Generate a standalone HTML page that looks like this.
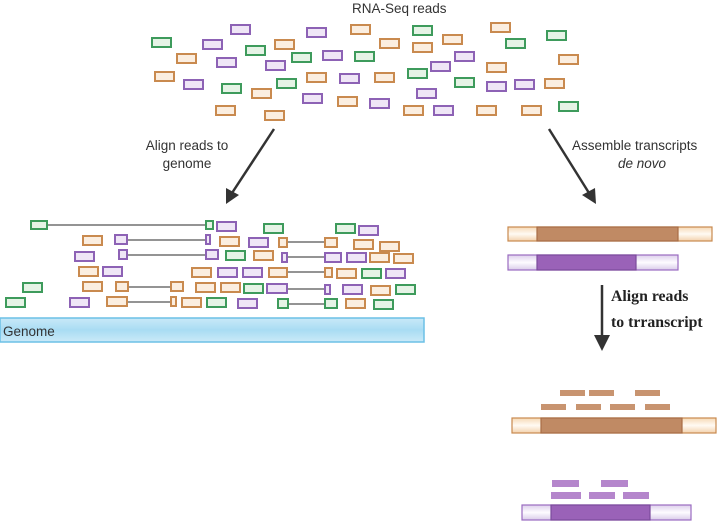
<!DOCTYPE html>
<html><head><meta charset="utf-8"><style>
html,body{margin:0;padding:0;background:#fff;width:720px;height:532px;overflow:hidden}
svg{display:block}
.g{fill:#e6f3e6;stroke:#3e9b5c;stroke-width:2}
.o{fill:#fbeee0;stroke:#c98a4f;stroke-width:2}
.p{fill:#efe6f6;stroke:#8d62b5;stroke-width:2}
.l{stroke:#555;stroke-width:1.2}
.t{font-family:"Liberation Sans",sans-serif;font-size:13.5px;fill:#333}
.s{font-family:"Liberation Serif",serif;font-size:15.8px;font-weight:bold;fill:#222}
</style></head><body>
<svg width="720" height="532" viewBox="0 0 720 532" xmlns="http://www.w3.org/2000/svg">
<defs>
<linearGradient id="gb" x1="0" y1="0" x2="0" y2="1"><stop offset="0" stop-color="#c9e9f8"/><stop offset="0.5" stop-color="#a9dcf3"/><stop offset="1" stop-color="#cbeaf8"/></linearGradient>
<linearGradient id="wo" x1="0" y1="0" x2="0" y2="1"><stop offset="0" stop-color="#f6d9b6"/><stop offset="0.5" stop-color="#fffaf3"/><stop offset="1" stop-color="#f3d2ad"/></linearGradient>
<linearGradient id="wp" x1="0" y1="0" x2="0" y2="1"><stop offset="0" stop-color="#ddd0ec"/><stop offset="0.5" stop-color="#fdfbff"/><stop offset="1" stop-color="#d9cbe9"/></linearGradient>
</defs>
<text class="t" x="352" y="13">RNA-Seq reads</text>
<g>
<rect class="p" x="231" y="25" width="19" height="9"/><rect class="p" x="307" y="28" width="19" height="9"/>
<rect class="o" x="351" y="25" width="19" height="9"/><rect class="g" x="413" y="26" width="19" height="9"/>
<rect class="o" x="491" y="23" width="19" height="9"/><rect class="g" x="547" y="31" width="19" height="9"/>
<rect class="g" x="152" y="38" width="19" height="9"/><rect class="p" x="203" y="40" width="19" height="9"/>
<rect class="g" x="246" y="46" width="19" height="9"/><rect class="o" x="275" y="40" width="19" height="9"/>
<rect class="o" x="380" y="39" width="19" height="9"/><rect class="o" x="413" y="43" width="19" height="9"/>
<rect class="o" x="443" y="35" width="19" height="9"/><rect class="g" x="506" y="39" width="19" height="9"/>
<rect class="o" x="177" y="54" width="19" height="9"/><rect class="p" x="217" y="58" width="19" height="9"/>
<rect class="p" x="266" y="61" width="19" height="9"/><rect class="g" x="292" y="53" width="19" height="9"/>
<rect class="p" x="323" y="51" width="19" height="9"/><rect class="g" x="355" y="52" width="19" height="9"/>
<rect class="p" x="455" y="52" width="19" height="9"/><rect class="p" x="431" y="62" width="19" height="9"/>
<rect class="o" x="487" y="63" width="19" height="9"/><rect class="o" x="559" y="55" width="19" height="9"/>
<rect class="o" x="155" y="72" width="19" height="9"/><rect class="p" x="184" y="80" width="19" height="9"/>
<rect class="g" x="222" y="84" width="19" height="9"/><rect class="g" x="277" y="79" width="19" height="9"/>
<rect class="o" x="307" y="73" width="19" height="9"/><rect class="p" x="340" y="74" width="19" height="9"/>
<rect class="o" x="375" y="73" width="19" height="9"/><rect class="g" x="408" y="69" width="19" height="9"/>
<rect class="g" x="455" y="78" width="19" height="9"/><rect class="p" x="487" y="82" width="19" height="9"/>
<rect class="p" x="515" y="80" width="19" height="9"/><rect class="o" x="545" y="79" width="19" height="9"/>
<rect class="o" x="252" y="89" width="19" height="9"/><rect class="p" x="303" y="94" width="19" height="9"/>
<rect class="o" x="338" y="97" width="19" height="9"/><rect class="p" x="370" y="99" width="19" height="9"/>
<rect class="p" x="417" y="89" width="19" height="9"/><rect class="o" x="216" y="106" width="19" height="9"/>
<rect class="o" x="265" y="111" width="19" height="9"/><rect class="o" x="404" y="106" width="19" height="9"/>
<rect class="p" x="434" y="106" width="19" height="9"/><rect class="o" x="477" y="106" width="19" height="9"/>
<rect class="o" x="522" y="106" width="19" height="9"/><rect class="g" x="559" y="102" width="19" height="9"/>
</g>
<line x1="274" y1="129" x2="232" y2="193" stroke="#333" stroke-width="2.5"/>
<polygon points="226,204 226,188 239,195" fill="#333"/>
<line x1="549" y1="129" x2="589" y2="193" stroke="#333" stroke-width="2.5"/>
<polygon points="596,204 582,195 595,188" fill="#333"/>
<text class="t" x="187" y="150" text-anchor="middle">Align reads to</text>
<text class="t" x="187" y="168" text-anchor="middle">genome</text>
<text class="t" x="572" y="150">Assemble transcripts</text>
<text class="t" x="642" y="168" text-anchor="middle" font-style="italic">de novo</text>
<g>
<line class="l" x1="47" y1="225" x2="206" y2="225"/>
<rect class="g" x="31" y="221" width="16" height="8"/><rect class="g" x="206" y="221" width="7" height="8"/>
<rect class="p" x="217" y="222" width="19" height="9"/><rect class="g" x="264" y="224" width="19" height="9"/>
<rect class="g" x="336" y="224" width="19" height="9"/><rect class="p" x="359" y="226" width="19" height="9"/>
<line class="l" x1="127" y1="240" x2="206" y2="240"/>
<rect class="o" x="83" y="236" width="19" height="9"/><rect class="p" x="115" y="235" width="12" height="9"/>
<rect class="p" x="206" y="235" width="4" height="9"/><rect class="o" x="220" y="237" width="19" height="9"/>
<rect class="p" x="249" y="238" width="19" height="9"/>
<line class="l" x1="287" y1="242" x2="325" y2="242"/>
<rect class="o" x="279" y="238" width="8" height="9"/><rect class="o" x="325" y="238" width="12" height="9"/>
<rect class="o" x="354" y="240" width="19" height="9"/><rect class="o" x="380" y="242" width="19" height="9"/>
<line class="l" x1="127" y1="255" x2="206" y2="255"/>
<rect class="p" x="75" y="252" width="19" height="9"/><rect class="p" x="119" y="250" width="8" height="9"/>
<rect class="p" x="206" y="250" width="12" height="9"/><rect class="g" x="226" y="251" width="19" height="9"/>
<rect class="o" x="254" y="251" width="19" height="9"/>
<line class="l" x1="287" y1="257" x2="325" y2="257"/>
<rect class="p" x="282" y="253" width="5" height="9"/><rect class="p" x="325" y="253" width="16" height="9"/>
<rect class="p" x="347" y="253" width="19" height="9"/><rect class="o" x="370" y="253" width="19" height="9"/>
<rect class="o" x="394" y="254" width="19" height="9"/>
<rect class="o" x="79" y="267" width="19" height="9"/><rect class="p" x="103" y="267" width="19" height="9"/>
<rect class="o" x="192" y="268" width="19" height="9"/><rect class="p" x="218" y="268" width="19" height="9"/>
<rect class="p" x="243" y="268" width="19" height="9"/>
<line class="l" x1="287" y1="272" x2="325" y2="272"/>
<rect class="o" x="269" y="268" width="18" height="9"/><rect class="o" x="325" y="268" width="7" height="9"/>
<rect class="o" x="337" y="269" width="19" height="9"/><rect class="g" x="362" y="269" width="19" height="9"/>
<rect class="p" x="386" y="269" width="19" height="9"/>
<rect class="g" x="23" y="283" width="19" height="9"/><rect class="o" x="83" y="282" width="19" height="9"/>
<line class="l" x1="128" y1="287" x2="171" y2="287"/>
<rect class="o" x="116" y="282" width="12" height="9"/><rect class="o" x="171" y="282" width="12" height="9"/>
<rect class="o" x="196" y="283" width="19" height="9"/><rect class="o" x="221" y="283" width="19" height="9"/>
<rect class="g" x="244" y="284" width="19" height="9"/>
<line class="l" x1="287" y1="289" x2="325" y2="289"/>
<rect class="p" x="267" y="284" width="20" height="9"/><rect class="p" x="325" y="285" width="5" height="9"/>
<rect class="p" x="343" y="285" width="19" height="9"/><rect class="o" x="371" y="286" width="19" height="9"/>
<rect class="g" x="396" y="285" width="19" height="9"/>
<rect class="g" x="6" y="298" width="19" height="9"/><rect class="p" x="70" y="298" width="19" height="9"/>
<line class="l" x1="127" y1="302" x2="171" y2="302"/>
<rect class="o" x="107" y="297" width="20" height="9"/><rect class="o" x="171" y="297" width="5" height="9"/>
<rect class="o" x="182" y="298" width="19" height="9"/><rect class="g" x="207" y="298" width="19" height="9"/>
<rect class="p" x="238" y="299" width="19" height="9"/>
<line class="l" x1="288" y1="304" x2="325" y2="304"/>
<rect class="g" x="278" y="299" width="10" height="9"/><rect class="g" x="325" y="299" width="12" height="9"/>
<rect class="o" x="346" y="299" width="19" height="9"/><rect class="g" x="374" y="300" width="19" height="9"/>
</g>
<rect x="0" y="318" width="424" height="24" fill="url(#gb)" stroke="#6cc0e6" stroke-width="1.5"/>
<text class="t" x="3" y="336" font-size="15">Genome</text>
<g stroke-width="1.2">
<rect x="508" y="227" width="204" height="14" fill="url(#wo)" stroke="#c98a4f"/>
<rect x="537" y="227" width="141" height="14" fill="#c08a64" stroke="#a86d45"/>
<rect x="508" y="255" width="170" height="15" fill="url(#wp)" stroke="#9a6cc0"/>
<rect x="537" y="255" width="99" height="15" fill="#9a62b8" stroke="#7b4a9c"/>
</g>
<line x1="602" y1="285" x2="602" y2="338" stroke="#333" stroke-width="2.5"/>
<polygon points="594,335 610,335 602,351" fill="#333"/>
<text class="s" x="611" y="301">Align reads</text>
<text class="s" x="611" y="327">to trranscript</text>
<g fill="#c89470">
<rect x="560" y="390" width="25" height="6"/><rect x="589" y="390" width="25" height="6"/><rect x="635" y="390" width="25" height="6"/>
<rect x="541" y="404" width="25" height="6"/><rect x="576" y="404" width="25" height="6"/><rect x="610" y="404" width="25" height="6"/><rect x="645" y="404" width="25" height="6"/>
</g>
<g stroke-width="1.2">
<rect x="512" y="418" width="204" height="15" fill="url(#wo)" stroke="#c98a4f"/>
<rect x="541" y="418" width="141" height="15" fill="#c08a64" stroke="#a86d45"/>
</g>
<g fill="#b586cc">
<rect x="552" y="480" width="27" height="7"/><rect x="601" y="480" width="27" height="7"/>
<rect x="551" y="492" width="30" height="7"/><rect x="589" y="492" width="26" height="7"/><rect x="623" y="492" width="26" height="7"/>
</g>
<g stroke-width="1.2">
<rect x="522" y="505" width="169" height="15" fill="url(#wp)" stroke="#9a6cc0"/>
<rect x="551" y="505" width="99" height="15" fill="#9a62b8" stroke="#7b4a9c"/>
</g>
</svg>
</body></html>
